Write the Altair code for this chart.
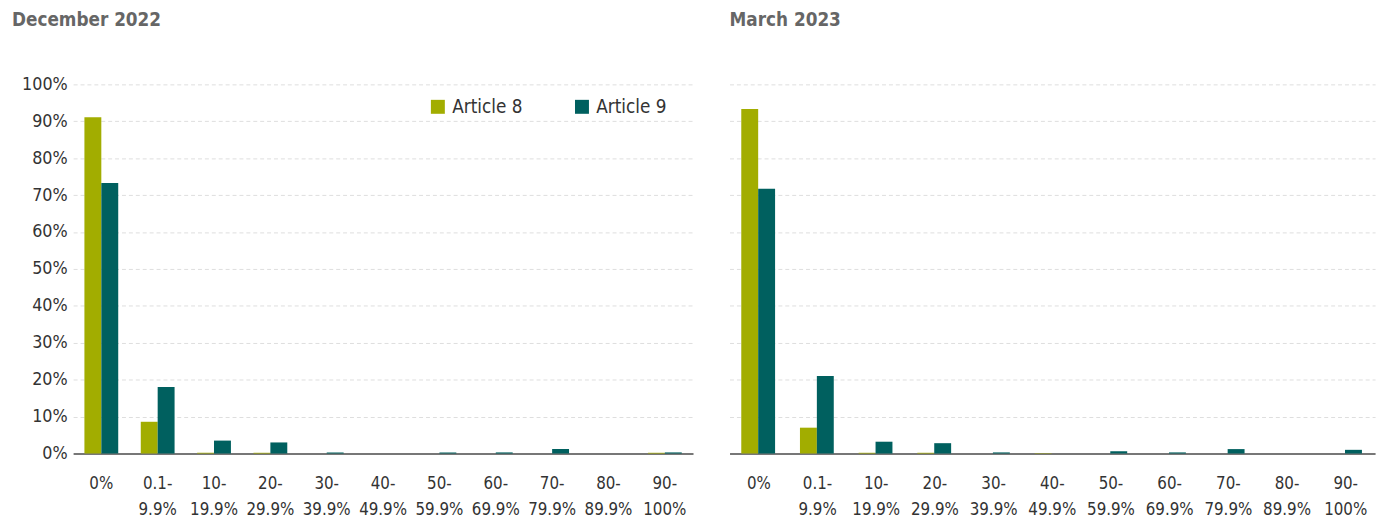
import altair as alt
import pandas as pd

categories = ["0%", "0.1-9.9%", "10-19.9%", "20-29.9%", "30-39.9%", "40-49.9%",
              "50-59.9%", "60-69.9%", "70-79.9%", "80-89.9%", "90-100%"]
series = ["Article 8", "Article 9"]
dec_art8 = [91.1, 8.6, 0.2, 0.2, 0.0, 0.0, 0.0, 0.0, 0.0, 0.0, 0.2]
dec_art9 = [73.3, 18.0, 3.5, 3.0, 0.3, 0.0, 0.3, 0.3, 1.2, 0.0, 0.3]
mar_art8 = [93.3, 7.0, 0.2, 0.2, 0.0, 0.1, 0.0, 0.0, 0.0, 0.0, 0.0]
mar_art9 = [71.7, 21.0, 3.2, 2.8, 0.3, 0.0, 0.6, 0.3, 1.2, 0.0, 1.0]
titles = ["December 2022", "March 2023"]
colors = ["#A2AD00", "#00605F"]

FONT = "DejaVu Sans Condensed"

def frame(a8, a9):
    rows = []
    for c, v8, v9 in zip(categories, a8, a9):
        rows.append({"cat": c, "series": series[0], "val": v8 / 100})
        rows.append({"cat": c, "series": series[1], "val": v9 / 100})
    return pd.DataFrame(rows)

label_expr = ("indexof(datum.value,'-')>0 ? [slice(datum.value,0,indexof(datum.value,'-')+1),"
              " slice(datum.value,indexof(datum.value,'-')+1)] : datum.value")

def panel(df, title, show_y, show_legend, width, dx, offset):
    x = alt.X("cat:N", sort=categories, title=None,
              scale=alt.Scale(paddingInner=0.4, paddingOuter=0.2),
              axis=alt.Axis(labelAngle=0, labelExpr=label_expr, labelFontSize=17,
                            labelColor="#333333", labelFont=FONT, labelLineHeight=27,
                            labelPadding=30, ticks=False, domainColor="#777777",
                            domainWidth=2, grid=False, labelBaseline="middle"))
    y = alt.Y("val:Q", title=None,
              scale=alt.Scale(domain=[0, 1]),
              axis=alt.Axis(format=".0%", values=[i / 10 for i in range(11)],
                            labels=show_y, labelFontSize=18, labelColor="#333333",
                            labelFont=FONT, ticks=False, domain=False, labelPadding=6,
                            grid=True, gridColor="#dddddd", gridDash=[4, 3], gridWidth=1))
    legend = alt.Legend(title=None, orient="none", legendX=360, legendY=13,
                        direction="horizontal", symbolType="square", symbolSize=200,
                        symbolStrokeWidth=0, labelFontSize=19, labelColor="#333333",
                        labelFont=FONT, columnPadding=50, labelOffset=5) if show_legend else None
    color = alt.Color("series:N", scale=alt.Scale(domain=series, range=colors),
                      legend=legend)
    return alt.Chart(df, title=alt.Title(title, anchor="start", frame="group", dx=dx,
                                         fontSize=19, fontWeight="bold", color="#666666",
                                         font=FONT, offset=offset)).mark_bar().encode(
        x=x, y=y, color=color, xOffset=alt.XOffset("series:N", sort=series)
    ).properties(width=width, height=374)

left = panel(frame(dec_art8, dec_art9), titles[0], True, True, 628, -62, 46)
right = panel(frame(mar_art8, mar_art9), titles[1], False, False, 654, 0, 55)

chart = alt.hconcat(left, right, spacing=37).resolve_scale(color="shared").configure(
    font=FONT, view=alt.ViewConfig(stroke=None), padding={"left": 4, "top": 0, "right": 5, "bottom": 0})

chart.save("out.html", embed_options={"renderer": "svg", "actions": False})
